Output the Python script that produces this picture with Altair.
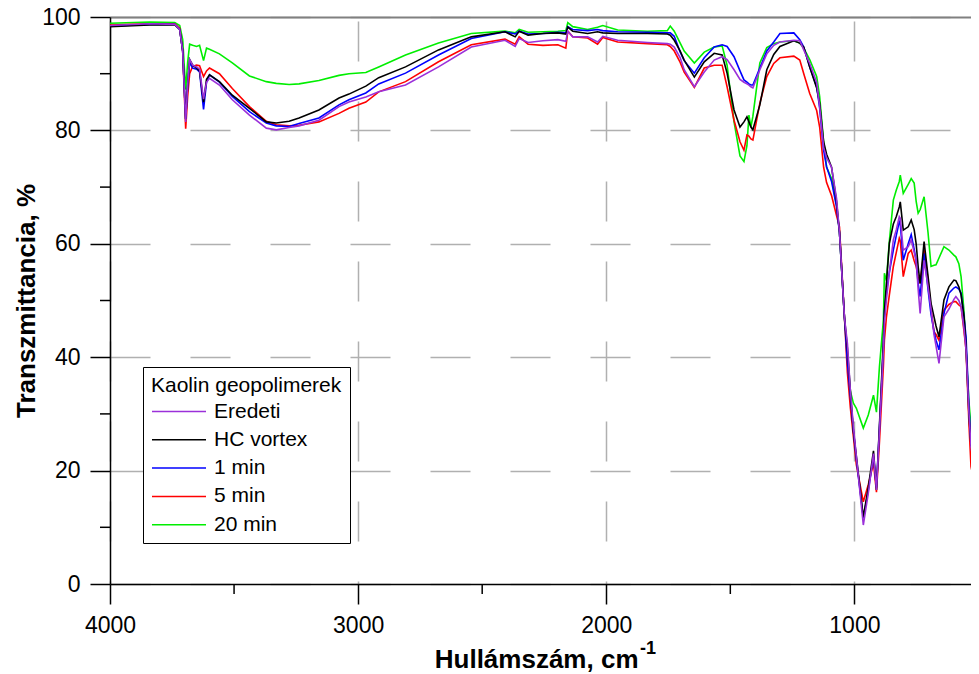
import altair as alt
import pandas as pd

# ---- data (wavenumber in cm-1, transmittance in %) ----
wavenumber = [4000, 3840, 3739, 3719, 3707, 3695, 3687, 3679, 3667, 3651, 3639, 3623, 3611, 3599,
              3559, 3507, 3438, 3370, 3330, 3278, 3238, 3158, 3077, 3037, 2969, 2917, 2809, 2676,
              2544, 2408, 2367, 2351, 2315, 2255, 2195, 2163, 2155, 2135, 2075, 2035, 2014, 1954,
              1834, 1754, 1742, 1726, 1702, 1686, 1645, 1605, 1565, 1533, 1513, 1485, 1461, 1445,
              1433, 1425, 1417, 1409, 1381, 1353, 1325, 1300, 1244, 1220, 1204, 1180, 1152, 1140,
              1124, 1112, 1092, 1072, 1060, 1040, 1028, 1016, 1004, 992, 964, 944, 923, 911, 899,
              883, 879, 871, 859, 843, 831, 819, 815, 803, 783, 771, 759, 751, 743, 735, 719, 703,
              691, 679, 671, 659, 639, 619, 599, 591, 579, 570, 558, 550, 538, 530, 522, 514]

eredeti = [98.5, 98.8, 98.7, 97.8, 94.0, 81.5, 88.0, 92.5, 91.5, 91.2, 90.8, 85.5, 88.5, 89.2,
           88.0, 85.4, 82.7, 80.4, 80.1, 80.5, 80.8, 81.8, 84.2, 85.0, 85.9, 86.8, 88.0, 91.2,
           94.7, 95.9, 94.8, 96.2, 95.5, 95.8, 96.0, 95.7, 97.5, 96.5, 96.5, 95.6, 96.6, 95.9,
           95.5, 95.3, 95.2, 94.7, 92.8, 90.7, 87.7, 90.3, 92.4, 93.0, 92.5, 90.7, 89.0, 88.5,
           88.2, 88.0, 87.7, 87.5, 90.7, 93.5, 95.0, 95.6, 95.9, 95.8, 94.2, 91.8, 88.5, 84.2,
           77.0, 75.2, 73.5, 68.0, 62.0, 47.0, 42.4, 34.0, 27.7, 22.5, 10.4, 16.0, 23.0, 16.6, 27.0,
           41.3, 46.0, 50.1, 55.0, 60.7, 62.5, 64.8, 64.5, 58.9, 59.5, 60.7, 58.5, 57.1, 52.0, 47.7, 57.1, 52.4,
           48.5, 44.0, 42.0, 38.9, 47.1, 48.5, 50.2, 50.7, 50.0, 48.9, 45.0, 41.3, 30.0, 24.2, 22.0, 26.0]

hc_vortex = [98.3, 98.6, 98.6, 97.8, 94.0, 82.0, 88.0, 92.5, 91.5, 91.0, 90.5, 85.0, 89.0, 89.8,
             88.6, 86.2, 83.9, 81.5, 81.3, 81.6, 82.2, 83.6, 85.7, 86.4, 87.8, 89.3, 91.2, 94.2,
             96.5, 97.4, 96.5, 97.5, 96.8, 97.1, 97.2, 97.0, 98.2, 97.5, 97.1, 97.4, 97.2, 97.1,
             97.1, 97.0, 96.8, 95.9, 94.0, 92.4, 89.4, 92.1, 93.6, 93.3, 90.1, 83.6, 80.6, 81.5,
             82.4, 81.5, 80.6, 80.1, 84.5, 90.7, 93.4, 94.8, 95.8, 95.4, 94.7, 91.2, 87.5, 84.8,
             78.0, 75.8, 73.5, 67.5, 62.0, 47.0, 41.5, 34.0, 27.0, 22.5, 11.8, 17.0, 23.5, 16.6, 28.0,
             43.0, 48.0, 53.0, 60.1, 63.5, 64.8, 66.5, 67.4, 62.4, 63.0, 64.2, 62.5, 60.0, 56.0, 53.0, 60.4, 54.2,
             49.5, 47.1, 45.5, 43.6, 50.1, 52.4, 53.6, 53.5, 52.4, 51.0, 47.1, 42.0, 29.5, 24.5, 24.2, 28.0]

min_1 = [98.4, 98.7, 98.7, 97.8, 94.0, 82.0, 88.0, 92.0, 91.0, 90.8, 90.3, 83.7, 88.5, 89.8,
         88.5, 86.0, 83.3, 81.3, 80.8, 80.7, 81.2, 82.2, 84.5, 85.4, 86.6, 88.2, 90.1, 93.3,
         96.2, 97.4, 97.0, 97.5, 97.0, 97.1, 97.3, 97.2, 98.3, 97.8, 97.6, 97.8, 97.6, 97.4,
         97.3, 97.2, 97.2, 96.6, 93.8, 92.3, 90.1, 92.8, 94.7, 95.1, 94.8, 93.0, 90.5, 88.9,
         88.5, 88.2, 88.0, 88.0, 91.0, 94.0, 95.6, 97.1, 97.2, 96.0, 94.7, 91.2, 87.7, 84.0,
         76.5, 73.6, 71.0, 66.5, 62.0, 47.0, 39.0, 33.0, 27.0, 22.0, 11.6, 16.5, 22.5, 17.0, 27.5,
         42.0, 48.0, 51.5, 55.0, 58.9, 61.5, 63.9, 63.5, 57.1, 60.0, 61.6, 59.0, 57.0, 53.0, 50.7, 58.3, 51.9,
         47.5, 44.5, 43.0, 41.3, 47.7, 51.3, 52.2, 52.4, 52.0, 51.3, 47.0, 43.6, 31.0, 24.8, 23.0, 27.0]

min_5 = [98.6, 98.8, 98.8, 98.0, 94.0, 80.3, 86.0, 90.0, 91.3, 91.5, 91.4, 89.5, 90.5, 91.0,
         90.0, 87.4, 84.2, 81.6, 81.0, 80.8, 80.9, 81.5, 83.0, 83.9, 85.0, 86.8, 88.6, 92.1,
         95.1, 96.1, 95.2, 96.5, 95.2, 95.0, 95.1, 94.5, 97.5, 96.5, 96.3, 95.2, 96.4, 95.6,
         95.3, 95.1, 94.8, 94.0, 92.0, 90.3, 87.6, 91.0, 91.5, 91.5, 87.7, 81.8, 78.0, 76.5,
         79.2, 79.0, 78.5, 78.3, 84.8, 89.5, 91.8, 92.8, 93.1, 92.4, 90.0, 86.5, 83.5, 80.6,
         73.5, 70.8, 68.5, 65.0, 63.0, 47.0, 37.2, 31.0, 26.0, 21.0, 14.5, 17.5, 21.3, 16.2, 25.0,
         38.5, 43.0, 47.0, 51.0, 56.0, 58.5, 61.0, 60.5, 54.2, 58.3, 58.9, 57.0, 56.0, 54.0, 53.0, 58.9, 53.6,
         48.5, 44.5, 44.0, 43.0, 48.3, 49.3, 49.8, 49.8, 49.2, 48.9, 44.5, 41.3, 28.0, 20.7, 19.0, 23.0]

min_20 = [98.9, 99.1, 99.0, 98.5, 96.0, 87.2, 92.0, 95.2, 95.0, 94.8, 95.0, 92.3, 94.5, 94.3,
          93.5, 91.9, 89.6, 88.6, 88.3, 88.1, 88.2, 88.8, 89.7, 90.0, 90.2, 91.2, 93.3, 95.4,
          97.1, 97.5, 97.2, 97.8, 97.3, 97.4, 97.5, 97.6, 99.0, 98.3, 97.8, 98.2, 98.5, 97.7,
          97.5, 97.6, 98.4, 97.5, 95.4, 94.0, 91.9, 93.8, 94.7, 94.9, 91.5, 81.5, 75.5, 74.5,
          77.3, 82.7, 80.6, 82.5, 91.9, 94.6, 95.3, 95.6, 95.8, 95.4, 94.5, 92.5, 89.5, 86.0,
          78.0, 73.5, 71.5, 67.0, 62.0, 47.0, 40.0, 34.0, 31.9, 31.0, 27.5, 29.8, 33.3, 30.3, 38.3,
          46.6, 54.8, 53.5, 60.5, 67.7, 69.5, 71.0, 72.1, 68.9, 70.5, 71.5, 70.7, 67.5, 65.4, 66.0, 68.3, 61.9,
          56.0, 56.2, 56.3, 57.5, 59.5, 58.9, 58.0, 57.7, 56.5, 54.2, 48.0, 41.3, 32.0, 27.7, 30.0, 38.0]

series_names = ["Eredeti", "HC vortex", "1 min", "5 min", "20 min"]
series_colors = ["#9b30d9", "#000000", "#0000ff", "#ff0000", "#00ee00"]
draw_order = ["20 min", "5 min", "1 min", "HC vortex", "Eredeti"]
x_major = [4000, 3000, 2000, 1000]
x_minor = [3500, 2500, 1500]
y_major = [0, 20, 40, 60, 80, 100]
y_minor = [10, 30, 50, 70, 90]

values = {"Eredeti": eredeti, "HC vortex": hc_vortex, "1 min": min_1,
          "5 min": min_5, "20 min": min_20}
rows = []
for name in draw_order:
    for w, v in zip(wavenumber, values[name]):
        rows.append({"wn": w, "T": v, "series": name})
df = pd.DataFrame(rows)

FONT = "Liberation Sans"
xscale = alt.Scale(domain=[4000, 530], zero=False, nice=False)
yscale = alt.Scale(domain=[0, 100], zero=False, nice=False)

lines = alt.Chart(df).mark_line(strokeWidth=1.6, clip=True).encode(
    x=alt.X("wn:Q", scale=xscale, axis=alt.Axis(
        values=x_major, format="d", tickSize=20, tickWidth=1.5, tickColor="black",
        domainColor="black", domainWidth=1.5, labelFontSize=23, labelFont=FONT,
        labelColor="black", labelPadding=10, labelFlush=False, labelOverlap=False,
        grid=True, gridColor="#b0b0b0", gridDash=[40, 40], gridDashOffset=76, gridWidth=1.5,
        title="Hullámszám, cm", titleFont=FONT, titleFontSize=26, titleFontWeight="bold",
        titleColor="black", titleAlign="right", titleX=528, titleY=83,
        titleBaseline="alphabetic")),
    y=alt.Y("T:Q", scale=yscale, axis=alt.Axis(
        values=y_major, format="d", tickSize=20, tickWidth=1.5, tickColor="black",
        domainColor="black", domainWidth=1.5, labelFontSize=23, labelFont=FONT,
        labelColor="black", labelPadding=10, labelFlush=False, labelOverlap=False,
        grid=True, gridColor="#b0b0b0", gridDash=[40, 40], gridWidth=1.5,
        title="Transzmittancia, %", titleFont=FONT, titleFontSize=26,
        titleFontWeight="bold", titleColor="black", titlePadding=2)),
    color=alt.Color("series:N", scale=alt.Scale(domain=series_names, range=series_colors),
                    legend=alt.Legend(
                        orient="none", legendX=33, legendY=350,
                        title="Kaolin geopolimerek", titleFont=FONT, titleFontSize=21,
                        titleFontWeight="normal", titleColor="black", titlePadding=1,
                        titleLimit=400, labelLimit=400,
                        labelFont=FONT, labelFontSize=21, labelColor="black",
                        labelOffset=34, symbolType="M-1,0H3", symbolSize=729,
                        symbolStrokeWidth=1.5, strokeColor="black", fillColor="white",
                        padding=8, rowPadding=3.3)),
)

xminor = alt.Chart(pd.DataFrame({"v": x_minor})).mark_rule(color="black", strokeWidth=1.5).encode(
    x=alt.X("v:Q", scale=xscale, axis=alt.Axis(
        orient="top", labels=False, ticks=False, grid=False, domainColor="#808080",
        domainWidth=2, title=None)),
    y=alt.value(567), y2=alt.value(577))

yminor = alt.Chart(pd.DataFrame({"m": y_minor})).mark_rule(color="black", strokeWidth=1.5).encode(
    y=alt.Y("m:Q", scale=yscale, axis=None),
    x=alt.value(-10), x2=alt.value(0))

sup = alt.Chart(pd.DataFrame({"t": ["-1"]})).mark_text(
    font=FONT, fontSize=18, fontWeight="bold", align="left", baseline="alphabetic",
    color="black").encode(text="t:N", x=alt.value(530), y=alt.value(637))

chart = alt.layer(lines, xminor, yminor, sup).resolve_axis(
    x="independent", y="independent").properties(
    width=861, height=567,
    padding={"left": 102, "top": 9, "right": 0, "bottom": 90},
    autosize=alt.AutoSizeParams(type="none"),
).configure_view(stroke=None)

chart.save("out.html", embed_options={"renderer": "svg", "actions": False})
